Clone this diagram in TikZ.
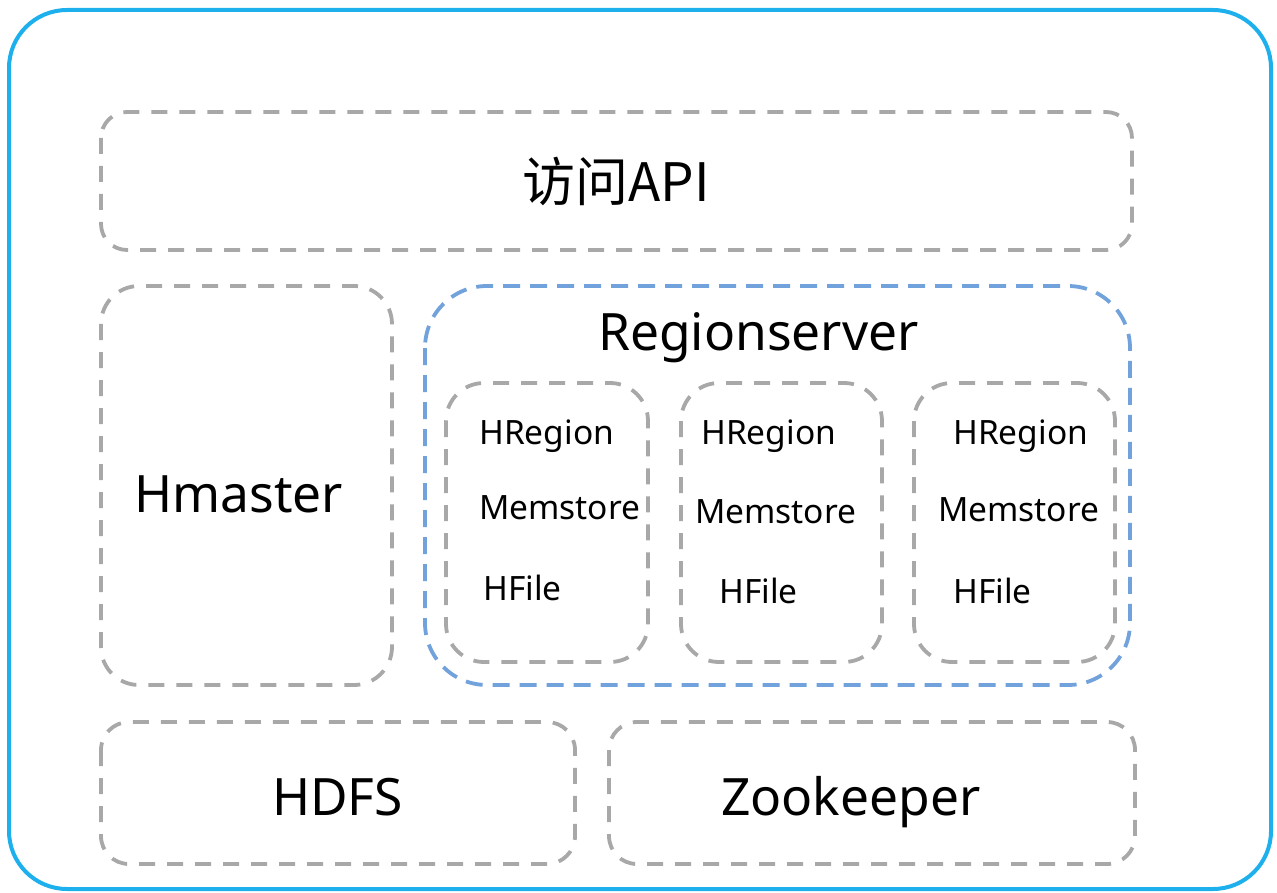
\documentclass[tikz,border=0pt]{standalone}
\usepackage{fontspec}
\setmainfont{Noto Sans}
\newfontfamily\cjk{Noto Sans CJK SC}
\definecolor{outerblue}{HTML}{1DB0EC}
\definecolor{dashgray}{HTML}{A8A8A8}
\definecolor{dashblue}{HTML}{72A2DC}
\tikzset{
  graybox/.style={draw=dashgray, line width=3.8pt, dash pattern=on 16pt off 12pt},
  bluebox/.style={draw=dashblue, line width=3.8pt, dash pattern=on 17pt off 10pt},
  bigtext/.style={inner sep=0pt, anchor=base west, font=\fontsize{51.5}{60}\selectfont},
  smalltext/.style={inner sep=0pt, anchor=base west, font=\fontsize{33.5}{40}\selectfont},
}
\begin{document}
\begin{tikzpicture}[x=1pt,y=-1pt]
\useasboundingbox (0,0) rectangle (1277,893);
% outer frame
\draw[outerblue, line width=4pt, rounded corners=58pt] (9,10) rectangle (1271,889);
% API
\draw[graybox, rounded corners=26pt] (101,112) rectangle (1132,250);
\node[inner sep=0pt, font=\cjk\fontsize{53}{60}\selectfont] (api) at (616,181) {访问API};
% Hmaster
\draw[graybox, rounded corners=38pt] (101,286) rectangle (392,685);
\node[bigtext] (hmaster) at (134,512) {Hmaster};
% Regionserver
\draw[bluebox, rounded corners=62pt] (425,286) rectangle (1130,685);
\node[bigtext] (rs) at (598,350) {Regionserver};
% HRegion boxes
\draw[graybox, rounded corners=38pt] (446,383) rectangle (648,662);
\draw[graybox, rounded corners=38pt] (681,383) rectangle (882,662);
\draw[graybox, rounded corners=38pt] (914,383) rectangle (1115,662);
\node[smalltext] (hr1) at (479,444) {HRegion};
\node[smalltext] (ms1) at (479,519) {Memstore};
\node[smalltext] (hf1) at (483,600) {HFile};
\node[smalltext] (hr2) at (701,444) {HRegion};
\node[smalltext] (ms2) at (695,523) {Memstore};
\node[smalltext] (hf2) at (719,603) {HFile};
\node[smalltext] (hr3) at (953,444) {HRegion};
\node[smalltext] (ms3) at (938,521) {Memstore};
\node[smalltext] (hf3) at (953,603) {HFile};
% HDFS & Zookeeper
\draw[graybox, rounded corners=28pt] (101,722) rectangle (575,864);
\node[bigtext] (hdfs) at (272,815) {HDFS};
\draw[graybox, rounded corners=28pt] (609,722) rectangle (1135,864);
\node[bigtext] (zk) at (721,815) {Zookeeper};
\end{tikzpicture}
\end{document}
